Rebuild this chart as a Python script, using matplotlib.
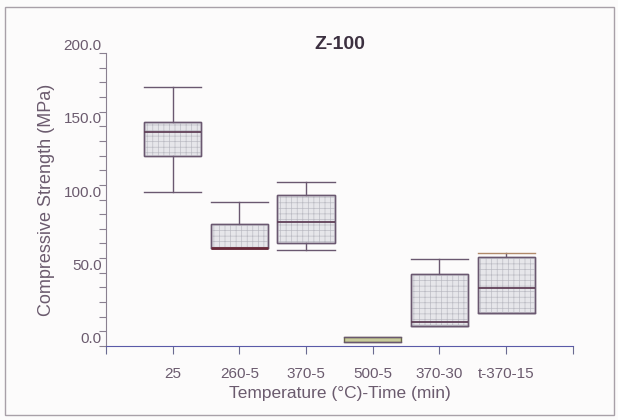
import matplotlib
matplotlib.use("Agg")
import matplotlib.pyplot as plt
from matplotlib.patches import PathPatch, Rectangle
from matplotlib.ticker import MultipleLocator, FixedLocator, FormatStrFormatter

# valores (MPa)
grupos = ["25", "260-5", "370-5", "500-5", "370-30", "t-370-15"]
whis_baixo = [104.9, 66.6, 65.5, 2.7, 13.9, 22.3]
q1 = [129.9, 66.6, 70.5, 2.7, 13.9, 22.3]
mediana = [146.3, 66.6, 84.6, 4.3, 16.2, 39.4]
q3 = [152.7, 83.5, 102.9, 5.9, 49.1, 61.0]
whis_alto = [176.6, 98.5, 111.7, 5.9, 59.4, 63.3]

cor_texto = "#6b5b6e"
cor_borda = "#6a5870"

plt.rcParams["font.family"] = ["Liberation Sans", "DejaVu Sans"]
plt.rcParams["hatch.linewidth"] = 0.5

fig = plt.figure(figsize=(6.18, 4.20), dpi=100)
fig.patch.set_facecolor("#fcfbfb")
ax = fig.add_axes([0.1715, 0.176, 0.7555, 0.698])
ax.set_facecolor("none")

stats = []
for i, g in enumerate(grupos):
    stats.append({"label": g, "whislo": whis_baixo[i], "q1": q1[i], "med": mediana[i],
                  "q3": q3[i], "whishi": whis_alto[i]})

pos = list(range(1, len(grupos) + 1))
bp = ax.bxp(stats, positions=pos, widths=0.86, capwidths=0.86, patch_artist=True,
            showfliers=False,
            boxprops=dict(facecolor="#e6e6ea", edgecolor=cor_borda, linewidth=1.0),
            whiskerprops=dict(color=cor_borda, linewidth=1.0),
            capprops=dict(color=cor_borda, linewidth=1.0),
            medianprops=dict(color="#604058", linewidth=1.3, zorder=4))

# trama em grade dentro das caixas
for i, caixa in enumerate(bp["boxes"]):
    if grupos[i] == "500-5":
        caixa.set_facecolor("#c9cc9c")
        caixa.set_edgecolor("#6a6848")
        bp["medians"][i].set_visible(False)
        continue
    trama = PathPatch(caixa.get_path(), facecolor="none", edgecolor="#bcbcc4",
                      linewidth=0, hatch="+++", zorder=caixa.get_zorder() + 0.05)
    ax.add_patch(trama)
    contorno = PathPatch(caixa.get_path(), facecolor="none", edgecolor=cor_borda,
                         linewidth=1.0, zorder=caixa.get_zorder() + 0.1)
    ax.add_patch(contorno)
    if q1[i] == mediana[i]:
        bp["medians"][i].set_color("#6a2a3a")
        bp["medians"][i].set_linewidth(2.0)
bp["caps"][11].set_color("#b08a6a")

ax.set_xlim(0, 7)
ax.set_ylim(0, 200)
for lado in ["top", "right"]:
    ax.spines[lado].set_visible(False)
ax.spines["left"].set_color("#8a8090")
ax.spines["left"].set_bounds(0, 200)
ax.spines["bottom"].set_color("#5a5aa8")

ax.yaxis.set_major_locator(MultipleLocator(50))
ax.yaxis.set_minor_locator(MultipleLocator(10))
ax.yaxis.set_major_formatter(FormatStrFormatter("%.1f"))
ax.tick_params(axis="y", which="both", direction="out", length=5, width=0.8,
               color="#8a8090", labelsize=11, labelcolor=cor_texto, pad=-2)
for lab in ax.get_yticklabels():
    lab.set_verticalalignment("bottom")

ax.set_xticks(pos)
ax.set_xticklabels(grupos)
ax.xaxis.set_minor_locator(FixedLocator([0, 7]))
ax.tick_params(axis="x", which="both", direction="out", length=6, width=0.8,
               color="#6a6a90", labelsize=11, labelcolor=cor_texto, pad=9)

ax.set_ylabel("Compressive Strength (MPa)", fontsize=13, color=cor_texto, labelpad=6)
ax.set_xlabel("Temperature (°C)-Time (min)", fontsize=12.5, color=cor_texto, labelpad=4)
ax.set_title("Z-100", fontsize=14, fontweight="bold", color="#3c3040", pad=1)

moldura = Rectangle((0.008, 0.012), 0.985, 0.972, transform=fig.transFigure,
                    facecolor="none", edgecolor="#a8a0a8", linewidth=1.0)
fig.patches.append(moldura)

fig.savefig("out.png", dpi=100, facecolor=fig.get_facecolor())
